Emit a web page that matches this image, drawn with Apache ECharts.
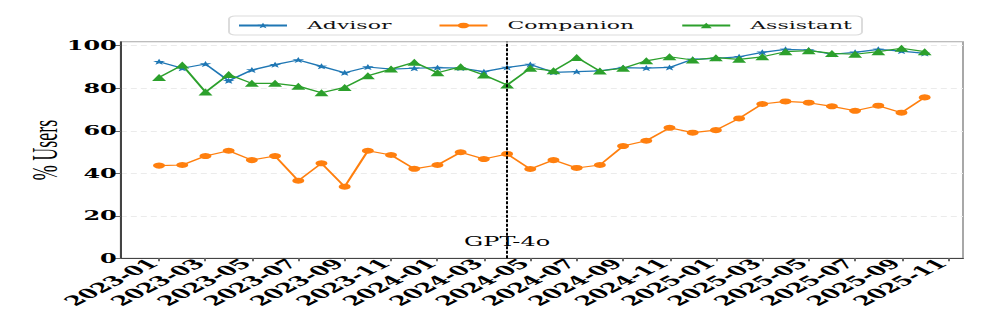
<!DOCTYPE html>
<html>
<head>
<meta charset="utf-8">
<script src="https://cdn.jsdelivr.net/npm/echarts@6.0.0/dist/echarts.min.js"></script>
<style>
  html, body { margin: 0; padding: 0; background: #fff; }
  #wrap { width: 996px; height: 327px; overflow: hidden; }
  /* the reference is a figure stretched 2x horizontally */
  #chart { width: 498px; height: 327px; transform: scaleX(2); transform-origin: 0 0; }
</style>
</head>
<body>
<div id="wrap"><div id="chart"></div></div>
<script>
// month tick labels (x = month index, 2023-01 is 0)
const months = [
  "2023-01", "2023-02", "2023-03", "2023-04", "2023-05", "2023-06", "2023-07", "2023-08", "2023-09", "2023-10", "2023-11", "2023-12",
  "2024-01", "2024-02", "2024-03", "2024-04", "2024-05", "2024-06", "2024-07", "2024-08", "2024-09", "2024-10", "2024-11", "2024-12",
  "2025-01", "2025-02", "2025-03", "2025-04", "2025-05", "2025-06", "2025-07", "2025-08", "2025-09", "2025-10", "2025-11"
];
const tickIdx = [0, 2, 4, 6, 8, 10, 12, 14, 16, 18, 20, 22, 24, 26, 28, 30, 32, 34];
const yTicks = [0, 20, 40, 60, 80, 100];

const advisor = [92.5, 89.4, 91.4, 83.5, 88.6, 91.1, 93.3, 90.3, 87.3, 90.0, 89.0, 89.4,
  89.7, 89.5, 87.8, 89.8, 91.2, 87.5, 87.8, 88.2, 89.7, 89.5, 89.8, 93.6,
  94.1, 94.8, 96.9, 98.3, 98.0, 96.0, 96.9, 98.3, 97.5, 96.4];
const companion = [43.6, 43.9, 48.1, 50.6, 46.2, 48.1, 36.5, 44.7, 33.7, 50.6, 48.6, 42.1,
  43.9, 49.9, 46.7, 49.1, 42.0, 46.2, 42.5, 43.9, 52.8, 55.3, 61.4, 59.1,
  60.3, 65.8, 72.6, 73.8, 73.2, 71.5, 69.4, 71.8, 68.5, 75.7];
const assistant = [85.1, 90.9, 78.2, 86.5, 82.3, 82.3, 81.0, 77.9, 80.4, 85.9, 89.0, 92.2,
  87.3, 90.1, 86.2, 81.5, 89.4, 88.2, 94.5, 88.1, 89.4, 92.9, 94.8, 93.3,
  94.4, 93.6, 94.8, 97.2, 97.7, 96.4, 96.0, 97.2, 98.8, 97.2];

const releaseX = 15;      // where the dashed line sits
const releaseLabel = "GPT-4o";
const releaseLabelY = 7.7;

const pts = arr => arr.map((v, i) => [i, v]);
const serif = "DejaVu Serif";

const chart = echarts.init(document.getElementById("chart"), null, { renderer: "svg" });

chart.setOption({
  animation: false,
  backgroundColor: "#fff",
  grid: {
    left: 60.4, right: 16.5, top: 41.7, bottom: 68.7,
    outerBoundsMode: "none", containLabel: false,
    show: true, borderColor: "#a8a8a8", borderWidth: 1
  },
  legend: {
    left: 114.5, top: 16,
    padding: [4, 5, 4, 4],
    itemWidth: 24, itemHeight: 7, itemGap: 23,
    borderColor: "#dcdcdc", borderWidth: 1, borderRadius: 3,
    textStyle: { fontFamily: serif, fontSize: 11, color: "#111", padding: [0, 0, 0, 5] },
    data: ["Advisor", "Companion", "Assistant"]
  },
  xAxis: {
    type: "value",
    min: -1.65, max: 34.65,
    splitLine: { show: false },
    axisLine: { onZero: false, lineStyle: { color: "#444", width: 1 } },
    axisTick: { show: true, length: 3, customValues: tickIdx, lineStyle: { color: "#666" } },
    axisLabel: {
      customValues: tickIdx,
      formatter: v => months[v] || "",
      rotate: 45, margin: 0, padding: [0, 4, 0, 0],
      fontFamily: serif, fontWeight: "bold", fontSize: 13, color: "#000"
    }
  },
  yAxis: {
    type: "value",
    min: 0, max: 101.9,
    name: "% Users", nameLocation: "middle", nameGap: 29, nameRotate: 90, nameMoveOverlap: false,
    nameTextStyle: { fontFamily: "Liberation Serif", fontSize: 18, color: "#000" },
    axisLine: { show: true, onZero: false, lineStyle: { color: "#444", width: 1 } },
    axisTick: { show: true, length: 3, customValues: yTicks, lineStyle: { color: "#666" } },
    axisLabel: {
      customValues: yTicks, margin: 2,
      fontFamily: serif, fontWeight: "bold", fontSize: 12, color: "#000"
    },
    splitLine: { show: true, lineStyle: { color: "#ebebeb", type: [3, 2], width: 1 } }
  },
  series: [
    {
      name: "Advisor", type: "line", data: pts(advisor),
      color: "#1f77b4", symbol: "path://M0,-10L2.35,-3.24L9.51,-3.09L3.8,1.24L5.88,8.09L0,4L-5.88,8.09L-3.8,1.24L-9.51,-3.09L-2.35,-3.24Z",
      symbolSize: 6, lineStyle: { width: 1.2 }, z: 3,
      markLine: {
        silent: true, symbol: "none",
        label: { show: false },
        lineStyle: { color: "#000", type: [3, 1.5], width: 1 },
        data: [{ xAxis: releaseX }]
      },
      markPoint: {
        silent: true, symbol: "circle", symbolSize: 0,
        label: { show: true, position: "inside", formatter: releaseLabel, fontFamily: serif, fontSize: 12, color: "#000" },
        data: [{ coord: [releaseX, releaseLabelY] }]
      }
    },
    {
      name: "Companion", type: "line", data: pts(companion),
      color: "#ff7f0e", symbol: "circle", symbolSize: 6, lineStyle: { width: 1.2 }, z: 2
    },
    {
      name: "Assistant", type: "line", data: pts(assistant),
      color: "#2ca02c", symbol: "triangle", symbolSize: 7, lineStyle: { width: 1.2 }, z: 4
    }
  ]
});
</script>
</body>
</html>
